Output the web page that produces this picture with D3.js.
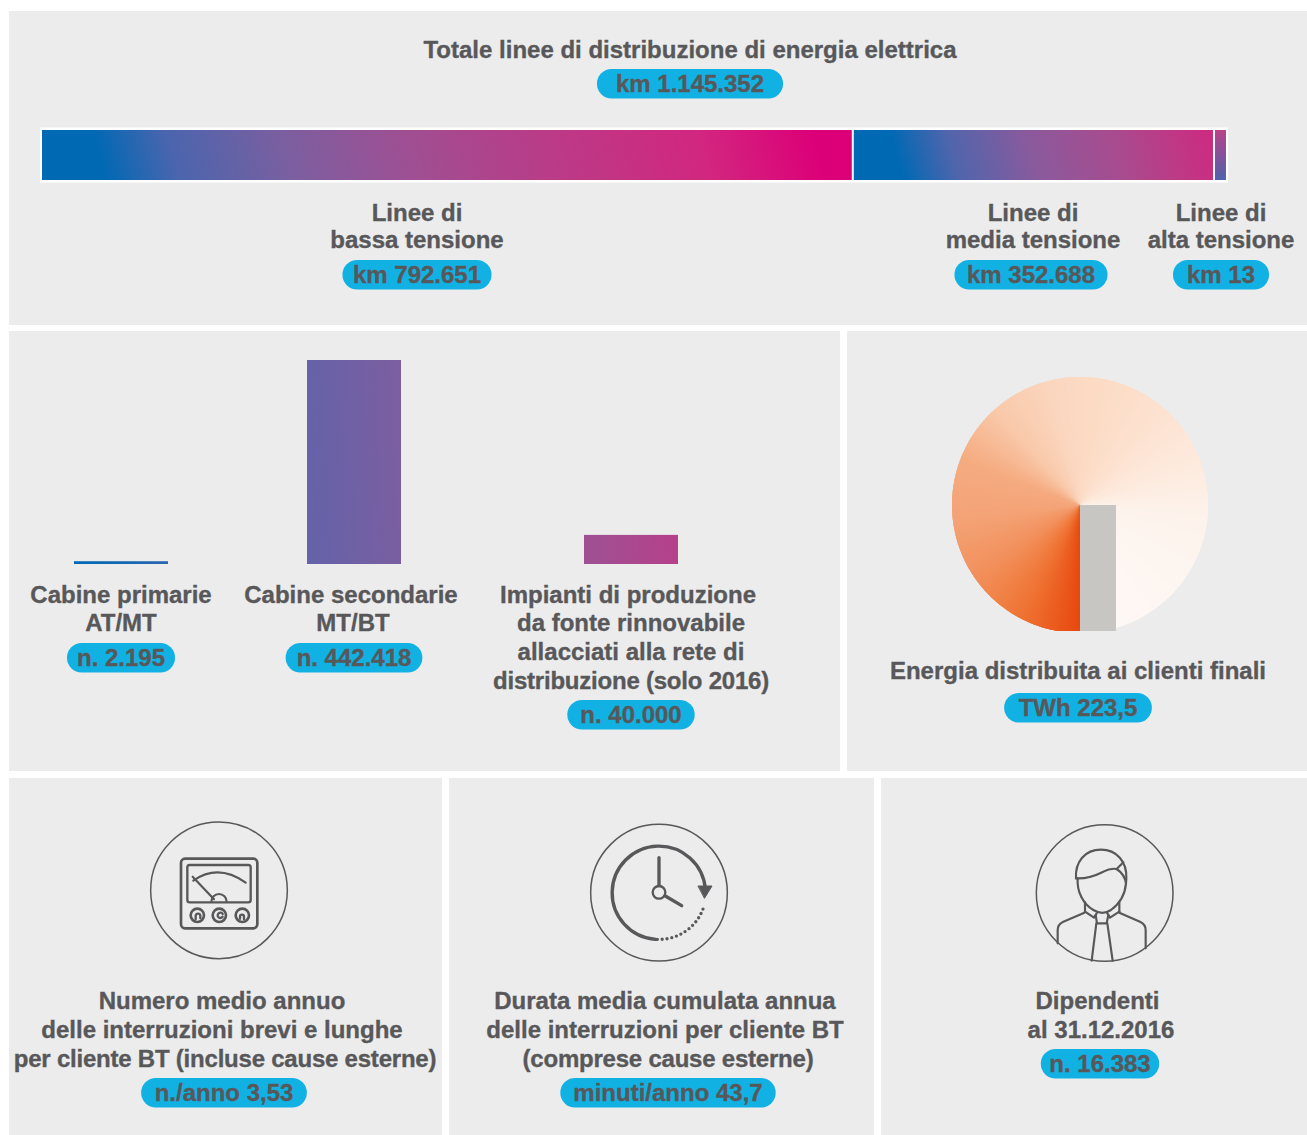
<!DOCTYPE html>
<html>
<head>
<meta charset="utf-8">
<script src="https://cdn.jsdelivr.net/npm/d3@7"></script>
<style>
  html, body { margin: 0; padding: 0; background: #fff; }
  svg { display: block; }
  text { font-family: "Liberation Sans Narrow", "Liberation Sans", Arial, sans-serif; font-weight: 700; fill: #58585a; stroke: #58585a; stroke-width: 0.35px; text-anchor: middle; font-size: 24px; }
  .icon * { fill: none; stroke: #58585a; stroke-linecap: round; stroke-linejoin: round; }
</style>
</head>
<body>
<div id="chart"></div>
<script>
// data
var lineCategories = ["bassa", "media", "alta"];
var lineValues = [792651, 352688, 13];
var lineLabels = [["Linee di", "bassa tensione"], ["Linee di", "media tensione"], ["Linee di", "alta tensione"]];
var linePills = ["km 792.651", "km 352.688", "km 13"];

var plantCategories = ["primarie", "secondarie", "rinnovabili"];
var plantValues = [2195, 442418, 40000];
var plantLabels = [
    ["Cabine primarie", "AT/MT"],
    ["Cabine secondarie", "MT/BT"],
    ["Impianti di produzione", "da fonte rinnovabile", "allacciati alla rete di", "distribuzione (solo 2016)"]
];
var plantPills = ["n. 2.195", "n. 442.418", "n. 40.000"];

var energyValue = 223.5;

var width = 1307, height = 1135;
var svg = d3.select("#chart").append("svg").attr("width", width).attr("height", height);
var defs = svg.append("defs");

// grey panels
var panels = [
    [9, 11, 1298, 314], [9, 331, 831, 440], [847, 331, 460, 440],
    [9, 778, 433, 357], [449, 778, 425, 357], [881, 778, 426, 357]
];
svg.selectAll("rect.panel")
    .data(panels)
  .enter().append("rect")
    .attr("class", "panel")
    .attr("x", function(d) { return d[0] })
    .attr("y", function(d) { return d[1] })
    .attr("width", function(d) { return d[2] })
    .attr("height", function(d) { return d[3] })
    .attr("fill", "#ececec");

function gradient(id, attrs, stops) {
    var g = defs.append("linearGradient").attr("id", id);
    Object.keys(attrs).forEach(function(k) { g.attr(k, attrs[k]) });
    g.selectAll("stop")
        .data(stops)
      .enter().append("stop")
        .attr("offset", function(d) { return d[0] })
        .attr("stop-color", function(d) { return d[1] });
}

// draws centred lines of text. Brackets run wide in this font, so those lines get tightened
function label(lines, cx, baselines) {
    lines.forEach(function(t, i) {
        svg.append("text")
            .attr("x", cx[i] === undefined ? cx[0] : cx[i])
            .attr("y", baselines[i])
            .style("letter-spacing", t.indexOf("(") >= 0 ? "-0.22px" : null)
            .text(t);
    });
}

// pill with its text; the pill is sized on the text
function pill(t, cx, y, pad) {
    var g = svg.append("g");
    var r = g.append("rect").attr("fill", "#12b1e3");
    var tx = g.append("text").attr("x", cx).attr("y", y).text(t);
    var w = tx.node().getComputedTextLength() + 2 * pad;
    r.attr("x", cx - w / 2).attr("y", y - 23).attr("width", w).attr("height", 29.5).attr("rx", 14.75);
}

label(["Totale linee di distribuzione di energia elettrica"], [690], [58]);
pill("km 1.145.352", 690, 92, 19);

// stacked line bar. The 13 km stretch gets a minimum width or it would not show
var lineX = d3.scaleLinear().domain([0, d3.sum(lineValues)]).range([42, 1215]);
var minWidth = 11;
var barTop = 130, barH = 50;

gradient("grad-bassa", { gradientUnits: "userSpaceOnUse", x1: 42, y1: 155, x2: 792, y2: -55 }, [
    [0, "#0069b4"], [0.07, "#0069b4"], [0.16, "#4a65ae"], [0.3, "#7a5fa0"], [0.46, "#a04e92"],
    [0.62, "#b93c88"], [0.82, "#d2267f"], [0.96, "#dc0078"], [1, "#dc0078"]
]);
gradient("grad-media", { gradientUnits: "userSpaceOnUse", x1: 853, y1: 155, x2: 1187, y2: 61.5 }, [
    [0, "#0069b4"], [0.12, "#0069b4"], [0.28, "#5165ac"], [0.5, "#8a5a9c"], [0.75, "#aa4a8e"], [1, "#cc2c80"]
]);
gradient("grad-alta", { x1: "0.5", y1: "0", x2: "0.5", y2: "1" }, [
    [0, "#b9418a"], [1, "#4f62ab"]
]);

var lineBars = [];
lineValues.reduce(function(acc, v, i) {
    lineBars.push({ name: lineCategories[i], x0: lineX(acc), w: Math.max(lineX(acc + v) - lineX(acc), minWidth) });
    return acc + v;
}, 0);

svg.append("rect")
    .attr("x", 40).attr("y", barTop - 2.5)
    .attr("width", 1188).attr("height", barH + 5)
    .attr("fill", "#fff");

svg.selectAll("rect.line")
    .data(lineBars)
  .enter().append("rect")
    .attr("class", "line")
    .attr("x", function(d) { return d.x0 })
    .attr("y", barTop)
    .attr("width", function(d, i) { return d.w - (i < 2 ? 2 : 0) })
    .attr("height", barH)
    .attr("fill", function(d) { return "url(#grad-" + d.name + ")" });

var lineCx = [417, 1033, 1221], linePillCx = [417, 1031, 1221], linePads = [10.5, 12.5, 14];
lineLabels.forEach(function(l, i) {
    label(l, [lineCx[i]], [221, 248]);
    pill(linePills[i], linePillCx[i], 283, linePads[i]);
});

// plants: a power scale, the picture does not draw these heights linearly
var plantY = d3.scalePow().exponent(0.81).domain([0, d3.max(plantValues)]).range([564, 360]);
var plantX = d3.scaleOrdinal(plantCategories, [74, 307, 584]);

gradient("grad-plant", { gradientUnits: "userSpaceOnUse", x1: "74", y1: "480", x2: "840", y2: "440" }, [
    [0, "#0069b4"], [0.25, "#5c64ac"], [0.44, "#7d5ea0"], [0.68, "#a24e92"], [0.8, "#b93e89"], [1, "#dc0078"]
]);

svg.selectAll("rect.plant")
    .data(plantValues)
  .enter().append("rect")
    .attr("class", "plant")
    .attr("x", function(d, i) { return plantX(plantCategories[i]) })
    .attr("y", function(d) { return plantY(d) })
    .attr("width", 94)
    .attr("height", function(d) { return plantY(0) - plantY(d) })
    .attr("fill", "url(#grad-plant)");

label(plantLabels[0], [121], [603, 631]);
pill(plantPills[0], 121, 666, 10);
label(plantLabels[1], [351, 353], [603, 631]);
pill(plantPills[1], 354, 666, 11);
label(plantLabels[2], [628, 631, 631, 631], [603, 631, 660, 689]);
pill(plantPills[2], 631, 723, 13);

// energy pie, one value drawn as a conic fade of thin slices, each overlaps the next to hide seams
var pieStops = d3.piecewise(d3.interpolateRgb, [
    "#e8490f", "#ef7434", "#f2905c", "#f4a377", "#f5ab80", "#f9c9aa", "#fbd6bf",
    "#fcdcc6", "#fde2d1", "#fdeadd", "#fdf3ec", "#fdf5f0", "#fef7f3", "#fff9f6"
]);
var cx = 1080, cy = 505, r = 128;
defs.append("clipPath").attr("id", "pie-clip")
  .append("rect").attr("x", cx - r).attr("y", cy - r).attr("width", 2 * r).attr("height", 2 * r - 2);

var slices = d3.pie().sort(null).startAngle(Math.PI).endAngle(3 * Math.PI)(d3.range(360).map(function() { return energyValue / 360 }));
var arc = d3.arc().innerRadius(0).outerRadius(r);

svg.append("g")
    .attr("clip-path", "url(#pie-clip)")
  .append("g")
    .attr("transform", "translate(" + cx + "," + cy + ")")
    .selectAll("path")
    .data(slices)
  .enter().append("path")
    .attr("d", function(d) {
        return arc({ startAngle: d.startAngle, endAngle: Math.min(d.endAngle + 0.03, 3 * Math.PI) });
    })
    .attr("fill", function(d, i) { return pieStops(i / 359) });

svg.append("rect").attr("x", cx).attr("y", cy).attr("width", 36).attr("height", r - 2).attr("fill", "#c7c6c2");

label(["Energia distribuita ai clienti finali"], [1078], [679]);
pill("TWh 223,5", 1078, 716, 14.5);

// icons, coordinates are in a 3x space so the group scales them down
function icon(x, y) {
    return svg.append("g").attr("class", "icon").attr("transform", "translate(" + x + "," + y + ") scale(" + 1 / 3 + ")");
}
function ring(g, x, y) {
    g.append("circle").attr("cx", x).attr("cy", y).attr("r", 205).attr("stroke-width", 4.5);
}
function strokes(g, paths, sw) {
    paths.forEach(function(p) { g.append("path").attr("d", p).attr("stroke-width", sw) });
}

// gauge
var g1 = icon(140, 810);
ring(g1, 237, 241);
g1.append("rect").attr("x", 123).attr("y", 146).attr("width", 229).attr("height", 209).attr("rx", 12).attr("stroke-width", 8);
g1.append("rect").attr("x", 142).attr("y", 165).attr("width", 190).attr("height", 112).attr("rx", 7).attr("stroke-width", 7);
strokes(g1, [
    "M160 212 Q235 160 317 218",
    "M158 200 L222 268",
    "M214 275 A23 23 0 0 1 260 275"
], 6.5);
[172, 238, 307].forEach(function(x, i) {
    g1.append("circle").attr("cx", x).attr("cy", 316).attr("r", 20).attr("stroke-width", 8);
    var inner = ["M-5 12 V2 A7 7 0 0 1 9 2 V8", "M10 -4 A8 8 0 1 0 10 4", "M-7 10 V4 A6 6 0 0 1 5 4 V12"][i];
    g1.append("path").attr("transform", "translate(" + x + ",316)").attr("d", inner).attr("stroke-width", 7);
});

// clock
var g2 = icon(580, 815);
ring(g2, 237, 233);
strokes(g2, ["M227 373 A140 140 0 1 1 376 222"], 10);
g2.append("path").attr("d", "M355 213 L396 213 L374 249 Z").style("fill", "#58585a").attr("stroke-width", 3);
strokes(g2, ["M237 128 V212", "M256 243 L305 272"], 10);
g2.append("circle").attr("cx", 237).attr("cy", 232).attr("r", 19).attr("stroke-width", 7);
g2.append("path").attr("d", "M232 373 A140 140 0 0 0 369 282").attr("stroke-width", 10).attr("stroke-dasharray", "0 14.6");

// person
var g3 = icon(1025, 815);
ring(g3, 239, 234);
strokes(g3, [
    "M153 190 C150 140 180 104 228 104 C275 104 306 140 304 190 L303 205",
    "M153 190 C190 192 215 180 235 170 C250 162 265 160 275 162 C290 172 300 185 303 205",
    "M275 162 L295 142",
    "M158 190 C155 230 175 268 205 285 C225 297 240 297 258 285 C285 265 300 240 303 205",
    "M180 262 V290 M283 262 V290",
    "M180 290 L207 308 L215 295 M283 290 L255 308 L247 295",
    "M178 293 L115 320 Q98 328 98 345 V385",
    "M283 293 L345 320 Q362 328 362 345 V400",
    "M212 300 L216 325 H245 L250 300",
    "M214 325 L200 437 M247 325 L263 437"
], 6.5);

// bottom texts
label(["Numero medio annuo", "delle interruzioni brevi e lunghe", "per cliente BT (incluse cause esterne)"], [222, 222, 225], [1009, 1038, 1067]);
pill("n./anno 3,53", 224, 1101, 13.5);
label(["Durata media cumulata annua", "delle interruzioni per cliente BT", "(comprese cause esterne)"], [665, 665, 668], [1009, 1038, 1067]);
pill("minuti/anno 43,7", 668, 1101, 13);
label(["Dipendenti", "al 31.12.2016"], [1097.5, 1101], [1009, 1038]);
pill("n. 16.383", 1100, 1072, 8.5);
</script>
</body>
</html>
